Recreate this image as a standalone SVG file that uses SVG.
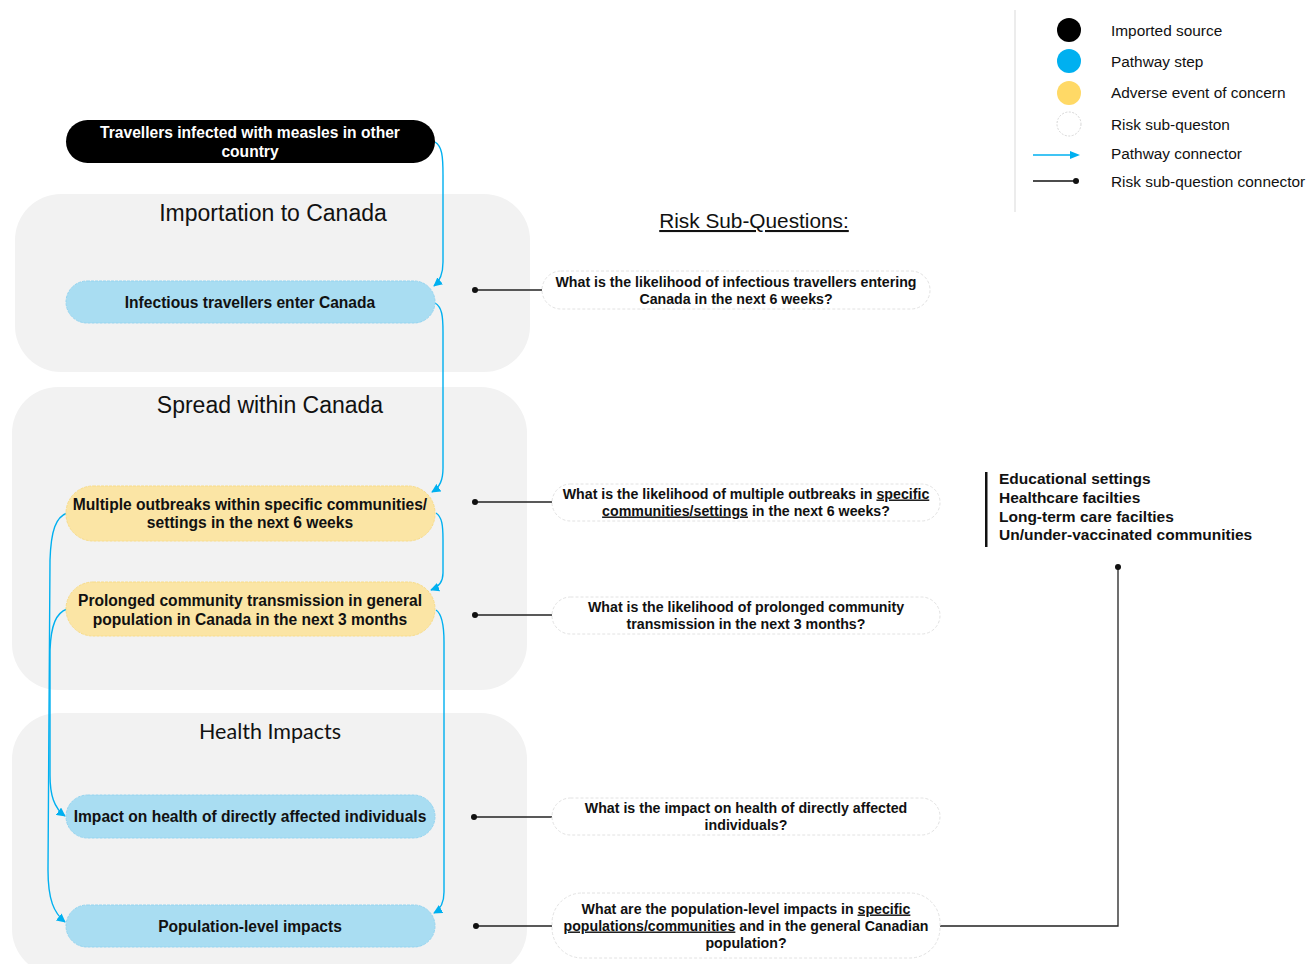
<svg xmlns="http://www.w3.org/2000/svg" width="1311" height="964" viewBox="0 0 1311 964">
<style>
.panel{fill:#f2f2f2}
.ptitle{font-family:"Liberation Sans",Arial,sans-serif;font-size:23px;fill:#111;text-anchor:middle}
.ptitle2{font-family:Lato,"Open Sans",sans-serif;font-size:21.5px;fill:#111;text-anchor:middle}
.nt{font-family:"Liberation Sans",Arial,sans-serif;font-size:15.6px;font-weight:bold;fill:#111;text-anchor:middle}
.nw{fill:#fff}
.blue{fill:#a9ddf2;stroke:#95d4f0;stroke-width:1;stroke-dasharray:3 1}
.yellow{fill:#fbe5a5;stroke:#f8dc8a;stroke-width:1;stroke-dasharray:3 1}
.q{fill:#fff;stroke:#e2e2e2;stroke-width:1;stroke-dasharray:3 2}
.qt{font-family:"Liberation Sans",Arial,sans-serif;font-size:14.2px;font-weight:bold;fill:#111;text-anchor:middle}
.pc{fill:none;stroke:#00b0f0;stroke-width:1.4}
.rc{fill:none;stroke:#222;stroke-width:1.3}
.dot{fill:#111}
.leg{font-family:"Liberation Sans",Arial,sans-serif;font-size:15.4px;fill:#111}
.list{font-family:"Liberation Sans",Arial,sans-serif;font-size:15.5px;font-weight:bold;fill:#111}
</style>
<defs>
<marker id="arr" viewBox="0 0 10 10" refX="9" refY="5" markerWidth="9" markerHeight="9" orient="auto" markerUnits="userSpaceOnUse">
<path d="M0,0 L10,5 L0,10 z" fill="#00b0f0"/>
</marker>
</defs>
<rect width="1311" height="964" fill="#fff"/>

<g id="panels">
<rect class="panel" x="15" y="194" width="515" height="178" rx="46"/>
<rect class="panel" x="12" y="387" width="515" height="303" rx="46"/>
<rect class="panel" x="12" y="713" width="515" height="262" rx="46"/>
<text class="ptitle" x="273" y="221">Importation to Canada</text>
<text class="ptitle" x="270" y="413">Spread within Canada</text>
<text class="ptitle2" x="270" y="739">Health Impacts</text>
</g>

<g id="connectors">
<path class="pc" d="M435,142 C442,146 443,156 443,175 L443,262 C443,274 440,281 434,286" marker-end="url(#arr)"/>
<path class="pc" d="M435,303 C442,307 443,316 443,332 L443,468 C443,480 440,487 432,492" marker-end="url(#arr)"/>
<path class="pc" d="M436,513 C442,517 443,525 443,540 L443,573 C443,582 439,587 431,590" marker-end="url(#arr)"/>
<path class="pc" d="M436,610 C442,614 444,625 444,642 L444,892 C444,903 441,909 434,913" marker-end="url(#arr)"/>
<path class="pc" d="M67,513 C56,517 51,530 50,560 L48,870 C48,900 54,913 65,922" marker-end="url(#arr)"/>
<path class="pc" d="M67,609 C56,613 51,625 50,650 L50,775 C50,795 54,808 65,816" marker-end="url(#arr)"/>
<path class="rc" d="M475,290 L542,290"/>
<circle class="dot" cx="475" cy="290" r="3"/>
<path class="rc" d="M475,502 L552,502"/>
<circle class="dot" cx="475" cy="502" r="3"/>
<path class="rc" d="M475,615 L552,615"/>
<circle class="dot" cx="475" cy="615" r="3"/>
<path class="rc" d="M474,817 L552,817"/>
<circle class="dot" cx="474" cy="817" r="3"/>
<path class="rc" d="M476,926 L552,926"/>
<circle class="dot" cx="476" cy="926" r="3"/>
<path class="rc" d="M940,926 L1118,926 L1118,567"/>
<circle class="dot" cx="1118" cy="567" r="3"/>
</g>

<g id="n-travellers">
<rect x="66" y="120" width="369" height="43" rx="21.5" fill="#000"/>
<text class="nt nw" x="250" y="137.5">Travellers infected with measles in other</text>
<text class="nt nw" x="250" y="156.5">country</text>
</g>
<g id="n-enter">
<rect class="blue" x="66" y="281" width="369" height="42" rx="21"/>
<text class="nt" x="250" y="307.5">Infectious travellers enter Canada</text>
</g>
<g id="n-outbreaks">
<rect class="yellow" x="66" y="486" width="369" height="55" rx="27"/>
<text class="nt" x="250" y="509.5">Multiple outbreaks within specific communities/</text>
<text class="nt" x="250" y="527.5">settings in the next 6 weeks</text>
</g>
<g id="n-prolonged">
<rect class="yellow" x="66" y="582" width="369" height="54" rx="27"/>
<text class="nt" x="250" y="605.5">Prolonged community transmission in general</text>
<text class="nt" x="250" y="624.5">population in Canada in the next 3 months</text>
</g>
<g id="n-impact">
<rect class="blue" x="66" y="795" width="369" height="43" rx="21.5"/>
<text class="nt" x="250" y="821.5">Impact on health of directly affected individuals</text>
</g>
<g id="n-population">
<rect class="blue" x="66" y="905" width="369" height="42" rx="21"/>
<text class="nt" x="250" y="931.5">Population-level impacts</text>
</g>

<g id="q-title">
<text x="754" y="228" style="font-family:'Liberation Sans',Arial,sans-serif;font-size:20.8px;fill:#111;text-anchor:middle;text-decoration:underline">Risk Sub-Questions:</text>
</g>

<g id="q1">
<rect class="q" x="542" y="271" width="388" height="38" rx="19"/>
<text class="qt" x="736" y="286.5">What is the likelihood of infectious travellers entering</text>
<text class="qt" x="736" y="303.5">Canada in the next 6 weeks?</text>
</g>
<g id="q2">
<rect class="q" x="552" y="484" width="388" height="37" rx="18.5"/>
<text class="qt" x="746" y="498.5">What is the likelihood of multiple outbreaks in <tspan text-decoration="underline">specific</tspan></text>
<text class="qt" x="746" y="515.5"><tspan text-decoration="underline">communities/settings</tspan> in the next 6 weeks?</text>
</g>
<g id="q3">
<rect class="q" x="552" y="597" width="388" height="37" rx="18.5"/>
<text class="qt" x="746" y="611.5">What is the likelihood of prolonged community</text>
<text class="qt" x="746" y="628.5">transmission in the next 3 months?</text>
</g>
<g id="q4">
<rect class="q" x="552" y="798" width="388" height="37" rx="18.5"/>
<text class="qt" x="746" y="812.5">What is the impact on health of directly affected</text>
<text class="qt" x="746" y="829.5">individuals?</text>
</g>
<g id="q5">
<rect class="q" x="552" y="893" width="388" height="65" rx="30"/>
<text class="qt" x="746" y="913.5">What are the population-level impacts in <tspan text-decoration="underline">specific</tspan></text>
<text class="qt" x="746" y="930.5"><tspan text-decoration="underline">populations/communities</tspan> and in the general Canadian</text>
<text class="qt" x="746" y="947.5">population?</text>
</g>

<g id="settings-list">
<rect x="985" y="472" width="2.5" height="75" fill="#111"/>
<text class="list" x="999" y="484">Educational settings</text>
<text class="list" x="999" y="503">Healthcare facilties</text>
<text class="list" x="999" y="522">Long-term care facilties</text>
<text class="list" x="999" y="540">Un/under-vaccinated communities</text>
</g>

<g id="legend">
<line x1="1015" y1="10" x2="1015" y2="212" stroke="#d9d9d9" stroke-width="1"/>
<circle cx="1069" cy="30" r="12" fill="#000"/>
<circle cx="1069" cy="61" r="12" fill="#00b0f0"/>
<circle cx="1069" cy="93" r="12" fill="#ffd966"/>
<circle cx="1069" cy="124" r="12" fill="#fff" stroke="#ccc" stroke-width="0.8" stroke-dasharray="2 1.5"/>
<line x1="1033" y1="155" x2="1072" y2="155" stroke="#00b0f0" stroke-width="1.5"/>
<path d="M1070,151 L1080,155 L1070,159 z" fill="#00b0f0"/>
<line x1="1033" y1="181" x2="1076" y2="181" stroke="#111" stroke-width="1.3"/>
<circle cx="1076" cy="181" r="3" fill="#111"/>
<text class="leg" x="1111" y="35.5">Imported source</text>
<text class="leg" x="1111" y="66.5">Pathway step</text>
<text class="leg" x="1111" y="98">Adverse event of concern</text>
<text class="leg" x="1111" y="129.5">Risk sub-queston</text>
<text class="leg" x="1111" y="158.5">Pathway connector</text>
<text class="leg" x="1111" y="186.5">Risk sub-question connector</text>
</g>
</svg>
